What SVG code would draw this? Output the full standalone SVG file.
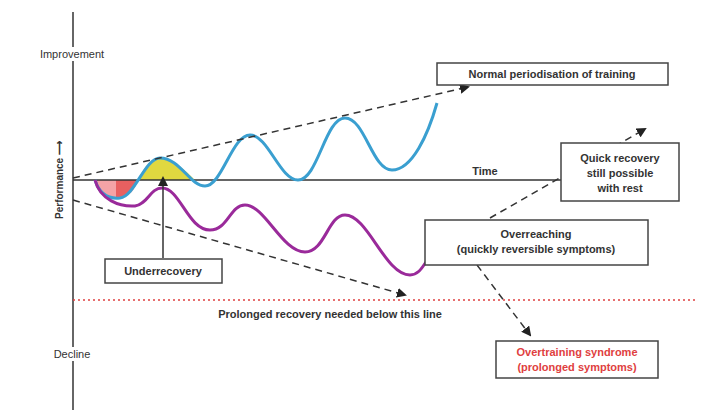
<svg xmlns="http://www.w3.org/2000/svg" width="710" height="416" viewBox="0 0 710 416">
<style>
text{font-family:"Liberation Sans",Arial,sans-serif;font-size:11px;font-weight:bold;fill:#333;text-anchor:middle}
.box{fill:#fff;stroke:#444;stroke-width:1.5}
.dash{fill:none;stroke:#333;stroke-width:1.5;stroke-dasharray:7,5}
</style>
<defs><marker id="ah" markerWidth="10" markerHeight="10" refX="8" refY="5" orient="auto" markerUnits="userSpaceOnUse"><path d="M0,0L10,5L0,10z" fill="#222"/></marker></defs>
<rect width="710" height="416" fill="#fff"/>
<g id="fills">
<path d="M95,180 C100,196 110,199 120,198 C130,196 135,190 138,180 Z" fill="#f4a3a6"/>
<path d="M116,180 L116,198 C128,197 134,190 138,180 Z" fill="#e86060"/>
<path d="M138,180 C145,165 152,158 160,158 C172,158 185,170 195,180 Z" fill="#e0d840"/>
</g>
<g id="axes" stroke="#333" stroke-width="1.5" fill="none">
<line x1="73" y1="12" x2="73" y2="410"/>
<line x1="73" y1="180" x2="561" y2="180"/>
<line x1="73" y1="300" x2="695" y2="300" stroke="#e04040" stroke-dasharray="2,3"/>
</g>
<g id="curves" fill="none" stroke-width="3">
<path d="M95,180 C100,196 110,199 120,198 C135,196 145,158 160,158 C180,158 190,186 205,186 C222,186 232,135 250,135 C268,135 280,180 298,180 C318,180 325,118 345,118 C365,118 372,170 392,170 C412,170 428,135 437,103" stroke="#3a9fd0"/>
<path d="M95,180 C100,200 120,207 135,206 C148,204 150,188 162,188 C180,188 188,230 210,230 C228,230 230,205 245,205 C265,205 282,252 305,252 C325,252 328,215 345,215 C368,215 385,275 410,275 C418,275 422,268 426,262" stroke="#9a2a9a"/>
</g>
<g id="connectors">
<line class="dash" x1="73" y1="178" x2="468" y2="87" marker-end="url(#ah)"/>
<line class="dash" x1="73" y1="200" x2="405" y2="295" marker-end="url(#ah)"/>
<line class="dash" x1="490" y1="218" x2="645" y2="129" marker-end="url(#ah)"/>
<line class="dash" x1="477" y1="265" x2="530" y2="335" marker-end="url(#ah)" stroke="#777"/>
<line x1="163" y1="258" x2="163" y2="178" stroke="#333" stroke-width="1.5" marker-end="url(#ah)"/>
</g>
<g id="labels">
<rect x="34" y="47" width="78" height="14" fill="#fff"/>
<rect x="48" y="347" width="48" height="14" fill="#fff"/>
<rect x="52" y="132" width="15" height="90" fill="#fff"/>
<text x="72" y="58" style="font-weight:normal">Improvement</text>
<text x="72" y="358" style="font-weight:normal">Decline</text>
<text transform="translate(63,180) rotate(-90)" style="font-size:10px">Performance ⟶</text>
<text x="485" y="175">Time</text>
<text x="330" y="318">Prolonged recovery needed below this line</text>
</g>
<g id="n-normal"><rect class="box" x="437" y="63" width="231" height="22"/><text x="552" y="78">Normal periodisation of training</text></g>
<g id="n-quick"><rect class="box" x="561" y="143" width="118" height="58"/><text x="620" y="162">Quick recovery</text><text x="620" y="177">still possible</text><text x="620" y="192">with rest</text></g>
<g id="n-over"><rect class="box" x="425" y="220" width="223" height="45"/><text x="536" y="238">Overreaching</text><text x="536" y="253">(quickly reversible symptoms)</text></g>
<g id="n-overtraining"><rect class="box" x="496" y="341" width="162" height="37"/><text x="577" y="356" style="fill:#e04040">Overtraining syndrome</text><text x="577" y="371" style="fill:#e04040">(prolonged symptoms)</text></g>
<g id="n-under"><rect class="box" x="105" y="259" width="117" height="24"/><text x="163" y="275">Underrecovery</text></g>
</svg>
